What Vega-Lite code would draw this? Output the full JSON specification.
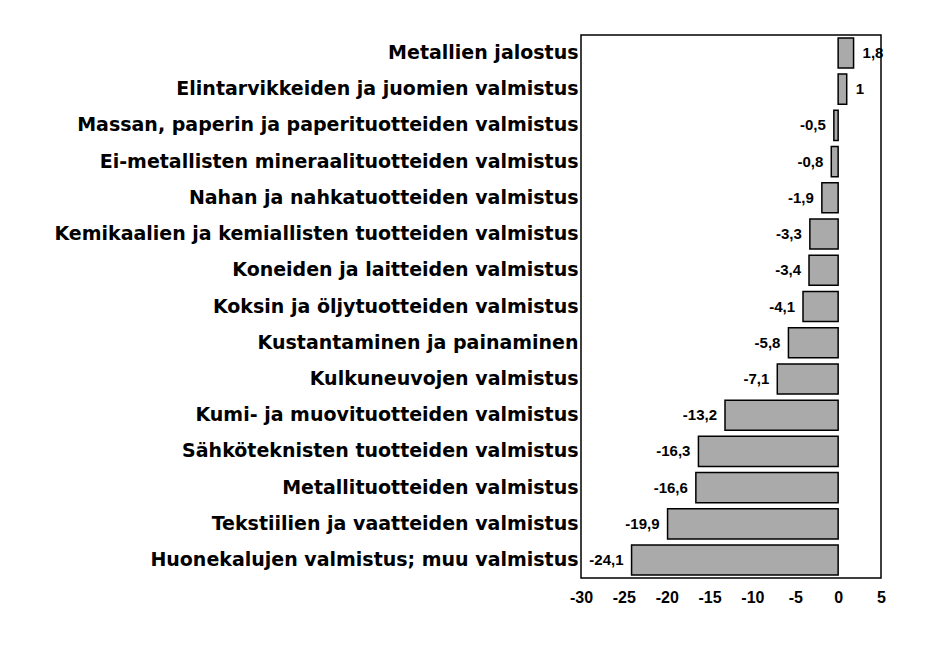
{
  "$schema": "https://vega.github.io/schema/vega-lite/v6.json",
  "width": 300,
  "height": 543,
  "autosize": {"type": "none"},
  "padding": {"left": 581, "top": 35, "right": 62, "bottom": 82},
  "background": "white",
  "config": {
    "view": {"stroke": "black", "strokeWidth": 1.5},
    "axis": {"grid": false}
  },
  "data": {
    "values": [
      {"industry": "Metallien jalostus", "v": 1.8},
      {"industry": "Elintarvikkeiden ja juomien valmistus", "v": 1},
      {"industry": "Massan, paperin ja paperituotteiden valmistus", "v": -0.5},
      {"industry": "Ei-metallisten mineraalituotteiden valmistus", "v": -0.8},
      {"industry": "Nahan ja nahkatuotteiden valmistus", "v": -1.9},
      {"industry": "Kemikaalien ja kemiallisten tuotteiden valmistus", "v": -3.3},
      {"industry": "Koneiden ja laitteiden valmistus", "v": -3.4},
      {"industry": "Koksin ja öljytuotteiden valmistus", "v": -4.1},
      {"industry": "Kustantaminen ja painaminen", "v": -5.8},
      {"industry": "Kulkuneuvojen valmistus", "v": -7.1},
      {"industry": "Kumi- ja muovituotteiden valmistus", "v": -13.2},
      {"industry": "Sähköteknisten tuotteiden valmistus", "v": -16.3},
      {"industry": "Metallituotteiden valmistus", "v": -16.6},
      {"industry": "Tekstiilien ja vaatteiden valmistus", "v": -19.9},
      {"industry": "Huonekalujen valmistus; muu valmistus", "v": -24.1}
    ]
  },
  "encoding": {
    "y": {
      "field": "industry",
      "type": "nominal",
      "sort": null,
      "scale": {"paddingInner": 0.17, "paddingOuter": 0.08},
      "axis": {
        "title": null,
        "ticks": false,
        "domain": false,
        "labelPadding": 3,
        "labelLimit": 700,
        "labelFont": "DejaVu Sans",
        "labelFontWeight": "bold",
        "labelFontSize": 19,
        "labelColor": "black"
      }
    },
    "x": {
      "field": "v",
      "type": "quantitative",
      "scale": {"domain": [-30, 5], "nice": false},
      "axis": {
        "title": null,
        "values": [-30, -25, -20, -15, -10, -5, 0, 5],
        "labelExpr": "toString(datum.value)",
        "ticks": false,
        "domain": false,
        "labelPadding": 11,
        "labelFont": "Liberation Sans",
        "labelFontWeight": "bold",
        "labelFontSize": 16,
        "labelColor": "black",
        "labelFlush": false
      }
    }
  },
  "layer": [
    {
      "mark": {"type": "bar", "fill": "#aaaaaa", "stroke": "black", "strokeWidth": 1.5},
      "encoding": {}
    },
    {
      "transform": [
        {"filter": "datum.v < 0"},
        {"calculate": "replace(toString(datum.v), '.', ',')", "as": "lbl"}
      ],
      "mark": {"type": "text", "align": "right", "baseline": "middle", "dx": -8, "font": "Liberation Sans", "fontWeight": "bold", "fontSize": 15, "color": "black"},
      "encoding": {"text": {"field": "lbl", "type": "nominal"}}
    },
    {
      "transform": [
        {"filter": "datum.v >= 0"},
        {"calculate": "replace(toString(datum.v), '.', ',')", "as": "lbl"}
      ],
      "mark": {"type": "text", "align": "left", "baseline": "middle", "dx": 9, "font": "Liberation Sans", "fontWeight": "bold", "fontSize": 15, "color": "black"},
      "encoding": {"text": {"field": "lbl", "type": "nominal"}}
    }
  ]
}
